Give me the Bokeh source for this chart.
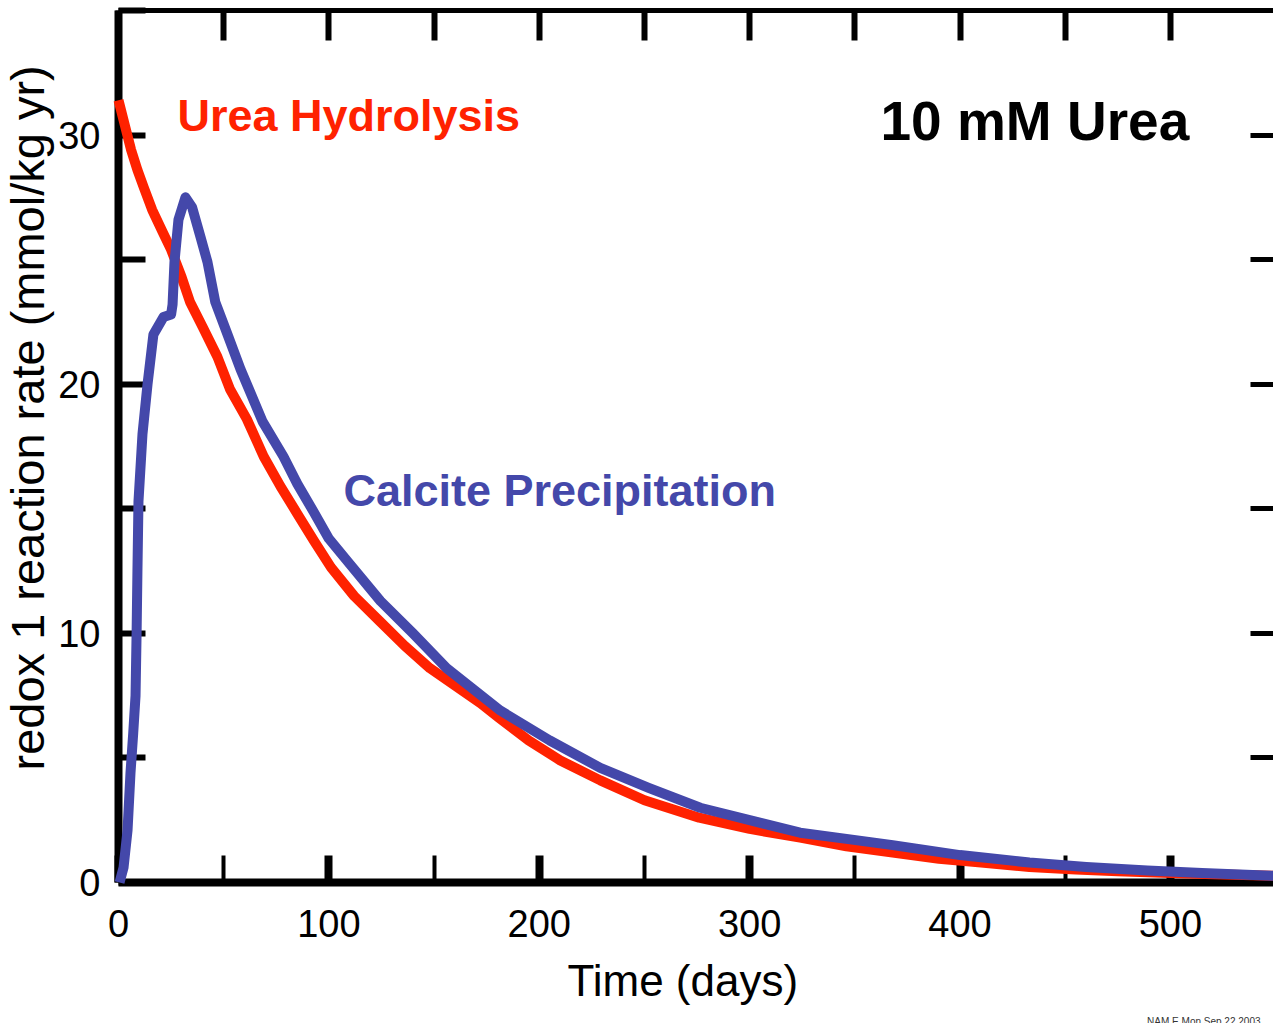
from bokeh.plotting import figure
from bokeh.models import Range1d, LinearAxis, FixedTicker, Label, Title
from bokeh.embed import file_html
from bokeh.resources import INLINE

# ---- data ----
urea_t = [0, 3, 6, 9, 12, 16, 21, 25, 30, 34, 40, 47, 53, 61, 69, 77, 85, 93, 101,
          112, 124, 136, 148, 160, 172, 181, 195, 210, 229, 250, 276, 300, 324, 346,
          368, 390, 410, 433, 455, 475, 500, 525, 549]
urea_rate = [31.4, 30.4, 29.4, 28.6, 27.9, 27.0, 26.1, 25.4, 24.3, 23.3, 22.3, 21.1,
             19.8, 18.6, 17.1, 15.9, 14.8, 13.7, 12.65, 11.5, 10.5, 9.5, 8.6, 7.9,
             7.2, 6.6, 5.7, 4.9, 4.1, 3.3, 2.6, 2.15, 1.8, 1.45, 1.2, 0.95, 0.8,
             0.62, 0.52, 0.45, 0.38, 0.32, 0.27]

calcite_t = [0.5, 2.4, 4.3, 5.7, 7.0, 8.1, 8.6, 9.0, 9.5, 11.4, 13.8, 16.6, 21.4,
             25.0, 25.7, 26.6, 28.5, 31.8, 35, 39, 42.3, 46, 51.8, 58, 68.5, 78.4,
             85, 92.6, 100, 108.8, 124.5, 140, 156, 168, 181.5, 205, 229, 252, 276.5,
             300, 324, 346, 368, 400, 433, 460, 489, 515, 549]
calcite_rate = [0.0, 0.6, 2.1, 4.4, 6.0, 7.5, 10.0, 12.5, 15.3, 18.0, 20.0, 22.0, 22.7,
                22.8, 23.2, 24.9, 26.6, 27.5, 27.1, 25.9, 24.9, 23.3, 22.0, 20.6,
                18.5, 17.1, 16.0, 14.9, 13.8, 12.9, 11.3, 10.0, 8.6, 7.8, 6.9, 5.7,
                4.6, 3.8, 3.0, 2.5, 2.0, 1.75, 1.5, 1.1, 0.8, 0.62, 0.48, 0.38, 0.27]

x_major = [0, 100, 200, 300, 400, 500]
x_minor = [50, 150, 250, 350, 450]
top_ticks = [0, 50, 100, 150, 200, 250, 300, 350, 400, 450, 500, 550]
y_major = [0, 10, 20, 30]
y_minor = [5, 15, 25, 35]
right_ticks = [5, 10, 15, 20, 25, 30]

RED = "#ff2200"
BLUE = "#4448aa"
FONT = "Liberation Sans"

p = figure(width=1273, height=1023, x_range=Range1d(0, 549), y_range=Range1d(0, 35),
           output_backend="svg", toolbar_location=None,
           min_border_left=118, min_border_right=0, min_border_top=10, min_border_bottom=141,
           outline_line_color=None, background_fill_color="white", border_fill_color="white")
p.grid.visible = False

# bottom axis (tick labels)
xb = p.xaxis[0]
xb.ticker = FixedTicker(ticks=x_major, minor_ticks=x_minor)
xb.major_tick_in = 27
xb.major_tick_out = 0
xb.major_tick_line_width = 8
xb.minor_tick_in = 27
xb.minor_tick_out = 0
xb.minor_tick_line_width = 4
xb.axis_line_width = 8
xb.major_label_text_font = FONT
xb.major_label_text_font_size = "38px"
xb.major_label_text_color = "black"
xb.major_label_standoff = 27

# left axis (tick labels)
yl = p.yaxis[0]
yl.ticker = FixedTicker(ticks=y_major, minor_ticks=y_minor)
yl.major_tick_in = 27
yl.major_tick_out = 0
yl.major_tick_line_width = 6
yl.minor_tick_in = 27
yl.minor_tick_out = 0
yl.minor_tick_line_width = 6
yl.axis_line_width = 8
yl.major_label_text_font = FONT
yl.major_label_text_font_size = "38px"
yl.major_label_text_color = "black"
yl.major_label_standoff = 18

# top axis: inward ticks only
top = LinearAxis(ticker=FixedTicker(ticks=[], minor_ticks=top_ticks),
                 minor_tick_in=30, minor_tick_out=0, minor_tick_line_width=6,
                 major_tick_line_color=None, axis_line_width=5, major_label_standoff=0)
p.add_layout(top, "above")

# right axis: inward ticks only
right = LinearAxis(ticker=FixedTicker(ticks=[], minor_ticks=right_ticks),
                   minor_tick_in=23, minor_tick_out=0, minor_tick_line_width=5,
                   major_tick_line_color=None, axis_line_color=None, major_label_standoff=0)
p.add_layout(right, "right")

# axis titles
p.add_layout(Title(text="redox 1 reaction rate (mmol/kg yr)", align="left",
                   vertical_align="top", offset=112, standoff=0, text_font=FONT,
                   text_font_size="47px", text_font_style="normal", text_color="black"), "left")
p.add_layout(Title(text="Time (days)", align="left", vertical_align="bottom",
                   offset=449, standoff=29, text_font=FONT, text_font_size="44px",
                   text_font_style="normal", text_color="black"), "below")
p.add_layout(Title(text="NAM E Mon Sep 22 2003", align="right", vertical_align="bottom",
                   offset=13, standoff=-12, text_font=FONT, text_font_size="10px",
                   text_font_style="normal", text_color="#333333"), "below")

p.line(urea_t, urea_rate, line_width=10, line_color=RED, line_join="round", level="overlay")
p.line(calcite_t, calcite_rate, line_width=10, line_color=BLUE, line_join="round", level="overlay")

p.add_layout(Label(x=28.0, y=30.79, text="Urea Hydrolysis", text_font=FONT,
                   text_font_style="bold", text_font_size="45px", text_color=RED,
                   text_align="left", text_baseline="middle"))
p.add_layout(Label(x=362.2, y=30.58, text="10 mM Urea", text_font=FONT,
                   text_font_style="bold", text_font_size="55px", text_color="black",
                   text_align="left", text_baseline="middle"))
p.add_layout(Label(x=106.9, y=15.73, text="Calcite Precipitation", text_font=FONT,
                   text_font_style="bold", text_font_size="45px", text_color=BLUE,
                   text_align="left", text_baseline="middle"))

open("out.html", "w").write(file_html(p, INLINE))
